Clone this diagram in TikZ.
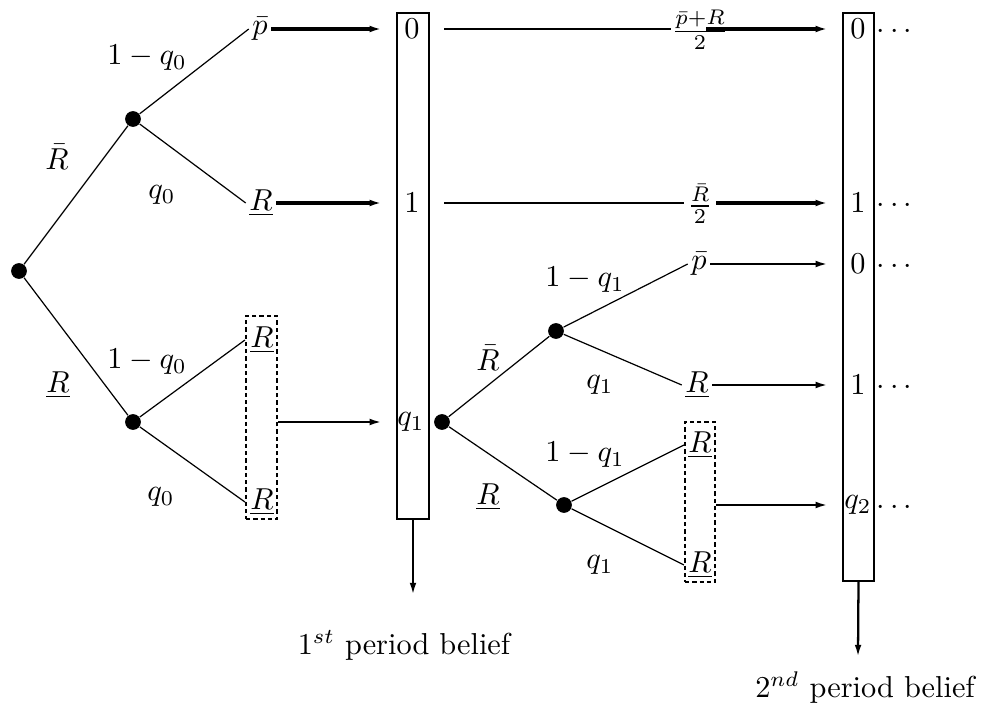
\documentclass[tikz,border=0pt]{standalone}
\usepackage{amsmath}
\usepackage{tikz}
\usetikzlibrary{
  arrows.meta,
  positioning,
  fit,
  calc
}

\begin{document}
\begin{tikzpicture}[x=0.33pt, y=-0.33pt,
  dot/.style={circle, fill=black, inner sep=0pt, minimum size=5.2pt},
  leaf/.style={inner sep=1pt},
  cell/.style={inner sep=1pt},
  branch/.style={line width=0.4pt},
  feed/.style={line width=1.1pt, -{Latex[length=4pt,width=2.2pt]}, shorten >=4.6pt},
  pass/.style={line width=0.75pt, -{Latex[length=4pt,width=2.2pt]}, shorten >=4.6pt},
  belief/.style={draw, line width=0.8pt, inner sep=0pt},
  pool/.style={draw, line width=0.7pt, dash pattern=on 1.4pt off 1pt, inner sep=0pt}]
  \useasboundingbox (0,0) rectangle (985,708);

  % First period tree
  \node[dot] (r0) at (19,271) {};
  \node[dot] (a0) at (133,119) {};
  \node[dot] (b0) at (133,422) {};
  \node[leaf] (p0) at (260,29) {$\bar{p}$};
  \node[leaf] (u0) at (261,203) {$\underline{R}$};
  \node[leaf] (s0) at (262,340) {$\underline{R}$};
  \node[leaf] (t0) at (262,502) {$\underline{R}$};
  \node[pool, fit={(246,316) (277,519)}] (g0) {};
  \draw[branch] (r0) -- (a0);
  \draw[branch] (r0) -- (b0);
  \draw[branch] (a0) -- (p0.west);
  \draw[branch] (a0) -- (u0.west);
  \draw[branch] (b0) -- (s0 -| g0.west);
  \draw[branch] (b0) -- (t0 -| g0.west);
  \node (ha0) at (147,58) {$1-q_0$};
  \node (la0) at (162,195) {$q_0$};
  \node (hr0) at (57,157) {$\bar{R}$};
  \node (lr0) at (58,385) {$\underline{R}$};
  \node (hb0) at (147,362) {$1-q_0$};
  \node (lb0) at (161,497) {$q_0$};

  % 1st period belief
  \node[belief, fit={(397,13) (429,519)}] (B1) {};
  \node[cell] (z0) at (412,29) {$0$};
  \node[cell] (z1) at (412,203) {$1$};
  \node[cell] (z2) at (411,422) {$q_1$};
  \draw[feed] (p0) -- (p0 -| B1.west);
  \draw[feed] (u0) -- (u0 -| B1.west);
  \draw[pass] (g0.east |- b0) -- (b0 -| B1.west);
  \coordinate (e1) at (413,595);
  \draw[pass, shorten >=0pt] (B1.south) -- (e1);
  \node (n1) at (404,645) {$1^{st}$ period belief};

  % Second period tree
  \node[dot] (r1) at (442,422) {};
  \node[dot] (a1) at (556,331) {};
  \node[dot] (b1) at (564,505) {};
  \node[leaf] (p1) at (699,264) {$\bar{p}$};
  \node[leaf] (u1) at (697,385) {$\underline{R}$};
  \node[leaf] (s1) at (700,445) {$\underline{R}$};
  \node[leaf] (t1) at (700,565) {$\underline{R}$};
  \node[pool, fit={(685,422) (715,582)}] (g1) {};
  \draw[branch] (r1) -- (a1);
  \draw[branch] (r1) -- (b1);
  \draw[branch] (a1) -- (p1.west);
  \draw[branch] (a1) -- (u1.west);
  \draw[branch] (b1) -- (s1 -| g1.west);
  \draw[branch] (b1) -- (t1 -| g1.west);
  \node (ha1) at (585,280) {$1-q_1$};
  \node (la1) at (600,385) {$q_1$};
  \node (hr1) at (488,358) {$\bar{R}$};
  \node (lr1) at (488,497) {$\underline{R}$};
  \node (hb1) at (585,455) {$1-q_1$};
  \node (lb1) at (600,565) {$q_1$};

  % 2nd period belief
  \node[belief, fit={(843,13) (874,581)}] (B2) {};
  \foreach \k/\v/\y in {0/0/29, 1/1/203, 2/0/264, 3/1/385, 4/q_2/505}{
    \node[cell] (y\k) at (858,\y) {$\v$};
    \node (c\k) at (897,\y+3) {$\cdots$};
  }
  \node[inner sep=0pt] (f0) at (700,30) {$\frac{\bar{p}+\underline{R}}{2}$};
  \node[inner sep=1pt] (f1) at (700,204) {$\frac{\bar{R}}{2}$};
  \draw[branch, shorten <=4.6pt] (B1.east |- z0) -- (f0.west |- z0);
  \draw[feed] ([xshift=2pt]f0.center |- z0) -- (z0 -| B2.west);
  \draw[branch, shorten <=4.6pt] (B1.east |- z1) -- (f1.west |- z1);
  \draw[feed] (f1.east |- z1) -- (z1 -| B2.west);
  \draw[pass] (p1) -- (p1 -| B2.west);
  \draw[pass] (u1) -- (u1 -| B2.west);
  \draw[pass] (g1.east |- b1) -- (b1 -| B2.west);
  \coordinate (e2) at (858,657);
  \draw[pass, shorten >=0pt] (B2.south) -- (e2);
  \node (n2) at (865,688) {$2^{nd}$ period belief};
\end{tikzpicture}
\end{document}
